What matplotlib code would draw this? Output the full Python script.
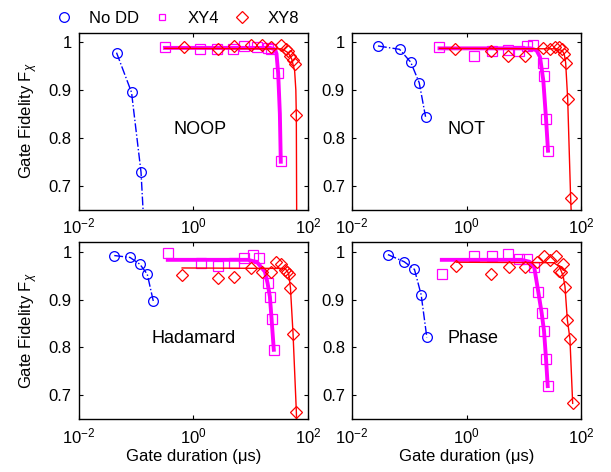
import numpy as np
import matplotlib
matplotlib.use('Agg')
import matplotlib.pyplot as plt
from matplotlib.lines import Line2D

plt.rcParams['font.family'] = ['Liberation Sans', 'DejaVu Sans']
plt.rcParams['mathtext.fontset'] = 'custom'
plt.rcParams['mathtext.rm'] = 'Liberation Sans'
plt.rcParams['mathtext.it'] = 'Liberation Sans:italic'
plt.rcParams['font.size'] = 12

gates = ['NOOP', 'NOT', 'Hadamard', 'Phase']

# No DD (circles, dash-dot)
nodd_t = {
    'NOOP': [0.046, 0.084, 0.123, 0.148],
    'NOT': [0.0284, 0.0676, 0.106, 0.149, 0.192],
    'Hadamard': [0.042, 0.079, 0.117, 0.158, 0.201],
    'Phase': [0.0424, 0.0815, 0.123, 0.161, 0.202],
}
nodd_f = {
    'NOOP': [0.978, 0.895, 0.728, 0.55],
    'NOT': [0.992, 0.985, 0.958, 0.915, 0.844],
    'Hadamard': [0.992, 0.988, 0.974, 0.953, 0.897],
    'Phase': [0.994, 0.979, 0.963, 0.910, 0.821],
}

# XY4 data (squares)
xy4_t = {
    'NOOP': [0.32, 1.33, 2.6, 5.0, 7.7, 13.0, 20.0, 22.3, 30.3, 33.6],
    'NOT': [0.336, 1.35, 2.74, 5.2, 8.2, 11.1, 14.5, 21.2, 22.6, 24.2, 26.2],
    'Hadamard': [0.36, 1.37, 2.69, 5.16, 7.8, 10.9, 14.2, 19.8, 21.7, 23.2, 25.4],
    'Phase': [0.369, 1.37, 2.74, 5.3, 8.2, 11.4, 15.1, 17.8, 20.3, 22.3, 24.2, 25.9],
}
xy4_f = {
    'NOOP': [0.990, 0.985, 0.986, 0.986, 0.991, 0.989, 0.987, 0.985, 0.935, 0.751],
    'NOT': [0.990, 0.971, 0.981, 0.983, 0.981, 0.992, 0.993, 0.957, 0.929, 0.840, 0.773],
    'Hadamard': [0.9965, 0.976, 0.970, 0.976, 0.9875, 0.993, 0.9875, 0.934, 0.906, 0.860, 0.795],
    'Phase': [0.953, 0.990, 0.990, 0.995, 0.985, 0.984, 0.967, 0.915, 0.872, 0.835, 0.776, 0.719],
}

# XY8 data (diamonds)
xy8_t = {
    'NOOP': [0.68, 2.7, 5.2, 10.2, 15.6, 23.0, 33.6, 41.0, 45.0, 49.0, 55.0, 58.6, 62.7],
    'NOT': [0.63, 2.67, 5.3, 10.4, 21.2, 28.4, 35.2, 41.3, 46.6, 50.5, 53.2, 57.7, 65.0],
    'Hadamard': [0.64, 2.66, 5.2, 10.2, 15.5, 22.3, 27.6, 33.6, 39.4, 43.3, 46.3, 49.5, 55.0, 62.8],
    'Phase': [0.66, 2.67, 5.5, 10.4, 16.6, 22.3, 28.4, 35.6, 41.3, 44.1, 48.4, 51.8, 56.9, 63.2, 70.5],
}
xy8_f = {
    'NOOP': [0.990, 0.986, 0.992, 0.995, 0.995, 0.990, 0.995, 0.986, 0.981, 0.972, 0.962, 0.955, 0.847],
    'NOT': [0.985, 0.981, 0.972, 0.971, 0.988, 0.986, 0.990, 0.990, 0.986, 0.976, 0.957, 0.882, 0.674],
    'Hadamard': [0.951, 0.944, 0.948, 0.965, 0.957, 0.958, 0.979, 0.974, 0.962, 0.957, 0.953, 0.925, 0.828, 0.665],
    'Phase': [0.970, 0.953, 0.969, 0.967, 0.979, 0.991, 0.983, 0.991, 0.960, 0.957, 0.974, 0.927, 0.858, 0.818, 0.683],
}

# fitted curves
fit4_t = {
    'NOOP': [0.32, 22.0, 26.5, 28.3, 30.3, 32.4, 33.6],
    'NOT': [0.336, 13.0, 16.5, 19.0, 21.7, 24.2, 26.2],
    'Hadamard': [0.36, 9.0, 13.0, 17.8, 19.8, 21.7, 23.2, 25.4],
    'Phase': [0.369, 9.0, 12.5, 15.1, 17.8, 20.3, 22.3, 24.2, 25.9],
}
fit4_f = {
    'NOOP': [0.988, 0.988, 0.985, 0.976, 0.934, 0.85, 0.75],
    'NOT': [0.987, 0.987, 0.983, 0.969, 0.92, 0.84, 0.773],
    'Hadamard': [0.983, 0.983, 0.978, 0.958, 0.934, 0.906, 0.86, 0.795],
    'Phase': [0.983, 0.983, 0.979, 0.967, 0.915, 0.872, 0.835, 0.776, 0.719],
}
fit8_t = {
    'NOOP': [0.32, 35.0, 45.0, 52.0, 58.6, 61.5, 62.7, 63.6],
    'NOT': [0.336, 38.0, 46.6, 50.5, 53.2, 57.7, 65.0, 66.8],
    'Hadamard': [0.64, 40.0, 46.0, 49.5, 55.0, 62.8, 63.6],
    'Phase': [0.66, 33.0, 41.3, 48.0, 51.8, 56.9, 63.2, 70.5],
}
fit8_f = {
    'NOOP': [0.987, 0.986, 0.978, 0.965, 0.94, 0.90, 0.847, 0.64],
    'NOT': [0.987, 0.986, 0.982, 0.974, 0.957, 0.882, 0.674, 0.64],
    'Hadamard': [0.966, 0.965, 0.955, 0.925, 0.828, 0.665, 0.64],
    'Phase': [0.978, 0.977, 0.969, 0.95, 0.927, 0.858, 0.818, 0.683],
}

label_pos = {'NOOP': (1.3, 0.818), 'NOT': (1.0, 0.818),
             'Hadamard': (1.0, 0.818), 'Phase': (1.31, 0.818)}

blue, mag, red = '#0000ff', '#ff00ff', '#ff0000'

fig = plt.figure(figsize=(6.11, 4.72), dpi=100)
boxes = [[0.1285, 0.556, 0.3755, 0.375], [0.576, 0.556, 0.3755, 0.375],
         [0.1285, 0.112, 0.3755, 0.375], [0.576, 0.112, 0.3755, 0.375]]

for i, g in enumerate(gates):
    ax = fig.add_axes(boxes[i])
    ax.plot(nodd_t[g], nodd_f[g], '-.', color=blue, lw=1, marker='o',
            ms=7, mfc='none', mew=0.9)
    ax.plot(fit4_t[g], fit4_f[g], '-', color=mag, lw=2.8)
    ax.plot(xy4_t[g], xy4_f[g], 's', color=mag, ms=6.5, mfc='none', mew=0.9)
    ax.plot(fit8_t[g], fit8_f[g], '-', color=red, lw=1)
    ax.plot(xy8_t[g], xy8_f[g], 'D', color=red, ms=6.5, mfc='none', mew=0.9)
    ax.set_xscale('log')
    ax.set_xlim(1e-2, 1e2)
    ax.set_ylim(0.65, 1.02)
    ax.set_xticks([1e-2, 1, 1e2])
    ax.xaxis.set_minor_locator(matplotlib.ticker.NullLocator())
    ax.set_yticks([0.7, 0.8, 0.9, 1.0])
    ax.set_yticklabels(['0.7', '0.8', '0.9', '1'])
    ax.tick_params(direction='in', length=3, width=0.8, top=True, right=True,
                   labelsize=12, pad=5)
    for s in ax.spines.values():
        s.set_linewidth(1)
    ax.text(*label_pos[g], g, ha='center', va='center', fontsize=13)
    if i % 2 == 0:
        ax.set_ylabel(r'Gate Fidelity F$_\chi$', fontsize=12, labelpad=6)
    if i >= 2:
        ax.set_xlabel('Gate duration (\u03bcs)', fontsize=12, labelpad=2)

handles = [
    Line2D([], [], ls='none', marker='o', color=blue, mfc='none', ms=7, mew=0.9),
    Line2D([], [], ls='none', marker='s', color=mag, mfc='none', ms=5, mew=0.9),
    Line2D([], [], ls='none', marker='D', color=red, mfc='none', ms=6, mew=0.9),
]
fig.legend(handles, ['No DD', 'XY4', 'XY8'], loc='upper left',
           bbox_to_anchor=(0.064, 1.008), ncol=3, frameon=False, fontsize=12,
           handletextpad=0.9, columnspacing=0.8, handlelength=1.2)

fig.savefig('out.png', dpi=100)
